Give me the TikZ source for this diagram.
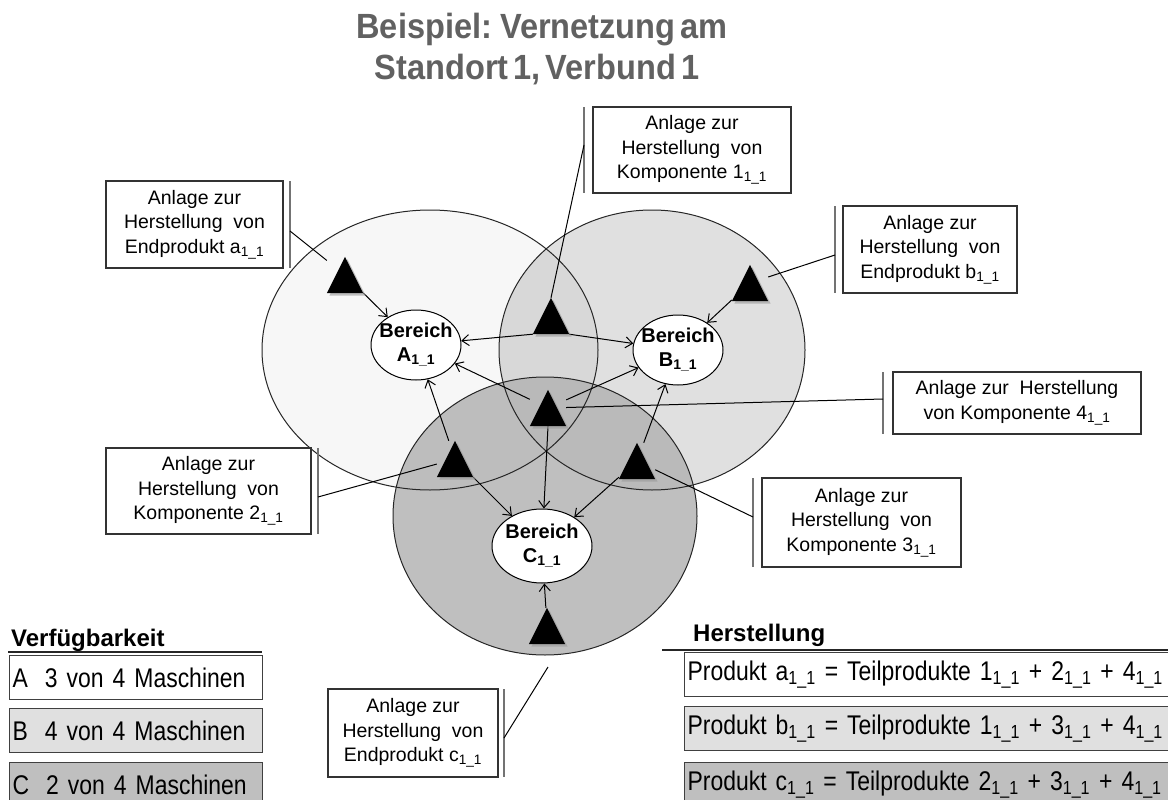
\documentclass[tikz,border=0pt]{standalone}
\usepackage{fontspec}
\setmainfont{Liberation Sans}
\newfontfamily\condf{Liberation Sans}[FakeStretch=0.85]
\newfontfamily\titlef{Liberation Sans}[FakeStretch=0.93,WordSpace=0.55]
\newcommand\rowfontsel{\condf\fontsize{27}{30}\selectfont\fontdimen2\font=5pt\fontdimen3\font=0pt\relax}
\usetikzlibrary{arrows.meta,shapes.geometric}
\definecolor{titlegray}{gray}{0.38}
\definecolor{cA}{gray}{0.97}
\definecolor{cC}{gray}{0.705}
\definecolor{rowB}{gray}{0.88}
\definecolor{rowC}{gray}{0.75}
\begin{document}
\begin{tikzpicture}[x=1pt,y=-1pt,
  titlefont/.style={text=titlegray,font=\titlef\bfseries\fontsize{35}{40}\selectfont,inner sep=0},
  lab/.style={draw=black!80,line width=1.1,fill=white,align=center,inner sep=0,
              font=\fontsize{19.5}{24.5}\selectfont},
  bar/.style={draw=black!55,line width=1.6},
  leader/.style={draw=black,line width=1},
  arr/.style={draw=black,line width=1,-{Straight Barb[length=7,width=11]}},
  ber/.style={ellipse,draw=black,line width=1,fill=white,minimum width=90,minimum height=70,inner sep=0},
  bertext/.style={align=center,inner sep=0,font=\bfseries\fontsize{20}{24}\selectfont},
  tri/.style={rectangle,minimum width=36,minimum height=36,inner sep=0},
  head/.style={font=\bfseries\fontsize{24}{28}\selectfont,inner sep=0},
  uline/.style={draw=black!85,line width=1.5},
  row/.style={draw=black!75,line width=1.2,anchor=north west,minimum height=44,
              inner xsep=3,inner ysep=0,text width=247,align=left,
              font=\rowfontsel},
  hrow/.style={row,text width=485},
  area/.style={draw=black!85,line width=1}
]
\useasboundingbox (0,0) rectangle (1168,800);
\fill[white] (0,0) rectangle (1168,800);

% title
\node[titlefont,anchor=base] (title1) at (542,39) {Beispiel: Vernetzung am};
\node[titlefont,anchor=base] (title2) at (537,80) {Standort 1, Verbund 1};

% areas: fills first, then outlines
\fill[cA] (430,350) ellipse [x radius=168,y radius=140];
\fill[black,fill opacity=0.12] (652,350) ellipse [x radius=153,y radius=140];
\fill[cC,fill opacity=0.85] (545,516) ellipse [x radius=152,y radius=139];
\draw[area] (430,350) ellipse [x radius=168,y radius=140];
\draw[area] (652,350) ellipse [x radius=153,y radius=140];
\draw[area] (545,516) ellipse [x radius=152,y radius=139];

% regions
\node[ber,label={[bertext]center:{Bereich\\A\textsubscript{1\_1}}}] (RA) at (416,345) {};
\node[ber,label={[bertext]center:{Bereich\\B\textsubscript{1\_1}}}] (RB) at (678,350) {};
\node[ber,minimum width=100,minimum height=74,label={[bertext]center:{Bereich\\C\textsubscript{1\_1}}}] (RC) at (542,546) {};

% machines (triangles)
\node[tri] (ta) at (345,275) {};
\node[tri] (t1) at (551,316) {};
\node[tri] (t4) at (548,408) {};
\node[tri] (t2) at (455,459) {};
\node[tri] (t3) at (637,461) {};
\node[tri] (tb) at (750,283) {};
\node[tri] (tc) at (547,626) {};

% connectors
\draw[arr] (ta) -- (RA);
\draw[arr] (t1.south west) -- (RA);
\draw[arr] (t1.south east) -- (RB);
\draw[arr] (t4) -- (RA);
\draw[arr] (t4) -- (RB);
\draw[arr] (t4.south) -- (RC);
\draw[arr] (t2) -- (RA);
\draw[arr] (t2) -- (RC);
\draw[arr] (t3) -- (RB);
\draw[arr] (t3) -- (RC);
\draw[arr] (tb) -- (RB);
\draw[arr] (tc) -- (RC);

\foreach \t in {ta,t1,t4,t2,t3,tb,tc}{
  \fill[black!40,fill opacity=0.6] ([shift={(2.5,2.5)}]\t.south west) -- ([shift={(2.5,2.5)}]\t.south east) -- ([shift={(2.5,2.5)}]\t.north) -- cycle;
  \fill[black] (\t.south west) -- (\t.south east) -- (\t.north) -- cycle;
}

% label boxes
\node[lab,minimum width=177,minimum height=87] (La) at (194.5,224.5) {Anlage zur\\Herstellung\ \ von\\Endprodukt a\textsubscript{1\_1}};
\node[lab,minimum width=198,minimum height=86] (L1) at (692,150) {Anlage zur\\Herstellung\ \ von\\Komponente 1\textsubscript{1\_1}};
\node[lab,minimum width=174,minimum height=87] (Lb) at (930,249.5) {Anlage zur\\Herstellung\ \ von\\Endprodukt b\textsubscript{1\_1}};
\node[lab,minimum width=248,minimum height=62] (L4) at (1017,403) {Anlage zur\ \ Herstellung\\von Komponente 4\textsubscript{1\_1}};
\node[lab,minimum width=199,minimum height=89] (L3) at (861.5,522.5) {Anlage zur\\Herstellung\ \ von\\Komponente 3\textsubscript{1\_1}};
\node[lab,minimum width=205,minimum height=86] (L2) at (208.5,491) {Anlage zur\\Herstellung\ \ von\\Komponente 2\textsubscript{1\_1}};
\node[lab,minimum width=170,minimum height=88] (Lc) at (413,733) {Anlage zur\\Herstellung\ \ von\\Endprodukt c\textsubscript{1\_1}};

% callout bars
\draw[bar] (290,181) -- (290,268);
\draw[bar] (584,107) -- (584,193);
\draw[bar] (835,206) -- (835,293);
\draw[bar] (883,372) -- (883,434);
\draw[bar] (753,478) -- (753,567);
\draw[bar] (318,448) -- (318,534);
\draw[bar] (504,689) -- (504,777);

\coordinate (ba) at (290,231);
\coordinate (b1) at (584,145);
\coordinate (bb) at (835,255);
\coordinate (b4) at (883,399);
\coordinate (b3) at (753,517);
\coordinate (b2) at (318,497);
\coordinate (bc) at (504,738);
\coordinate (cc) at (548,667);

\draw[leader] (ba) -- (ta);
\draw[leader] (b1) -- (t1.north);
\draw[leader] (bb) -- (tb);
\draw[leader] (b4) -- (t4);
\draw[leader] (b3) -- (t3);
\draw[leader] (b2) -- (t2);
\draw[leader] (bc) -- (cc);

% Verfuegbarkeit
\node[head,anchor=base west] (hV) at (11,646) {Verfügbarkeit};
\draw[uline] (8,652) -- (262,652);
\node[row,fill=white] (vA) at (9,655) {\mbox{A\hspace{17pt}3 von 4 Maschinen}};
\node[row,fill=rowB] (vB) at (9,708) {\mbox{B\hspace{17pt}4 von 4 Maschinen}};
\node[row,fill=rowC] (vC) at (9,762) {\mbox{C\hspace{17pt}2 von 4 Maschinen}};

% Herstellung
\node[head,anchor=base west] (hH) at (693,641) {Herstellung};
\draw[uline] (662,650) -- (1168,650);
\node[hrow,fill=white] (pA) at (684,652) {\mbox{Produkt a\textsubscript{1\_1} = Teilprodukte 1\textsubscript{1\_1} + 2\textsubscript{1\_1} + 4\textsubscript{1\_1}}};
\node[hrow,fill=rowB] (pB) at (684,706) {\mbox{Produkt b\textsubscript{1\_1} = Teilprodukte 1\textsubscript{1\_1} + 3\textsubscript{1\_1} + 4\textsubscript{1\_1}}};
\node[hrow,fill=rowC] (pC) at (684,762) {\mbox{Produkt c\textsubscript{1\_1} = Teilprodukte 2\textsubscript{1\_1} + 3\textsubscript{1\_1} + 4\textsubscript{1\_1}}};
\end{tikzpicture}
\end{document}
